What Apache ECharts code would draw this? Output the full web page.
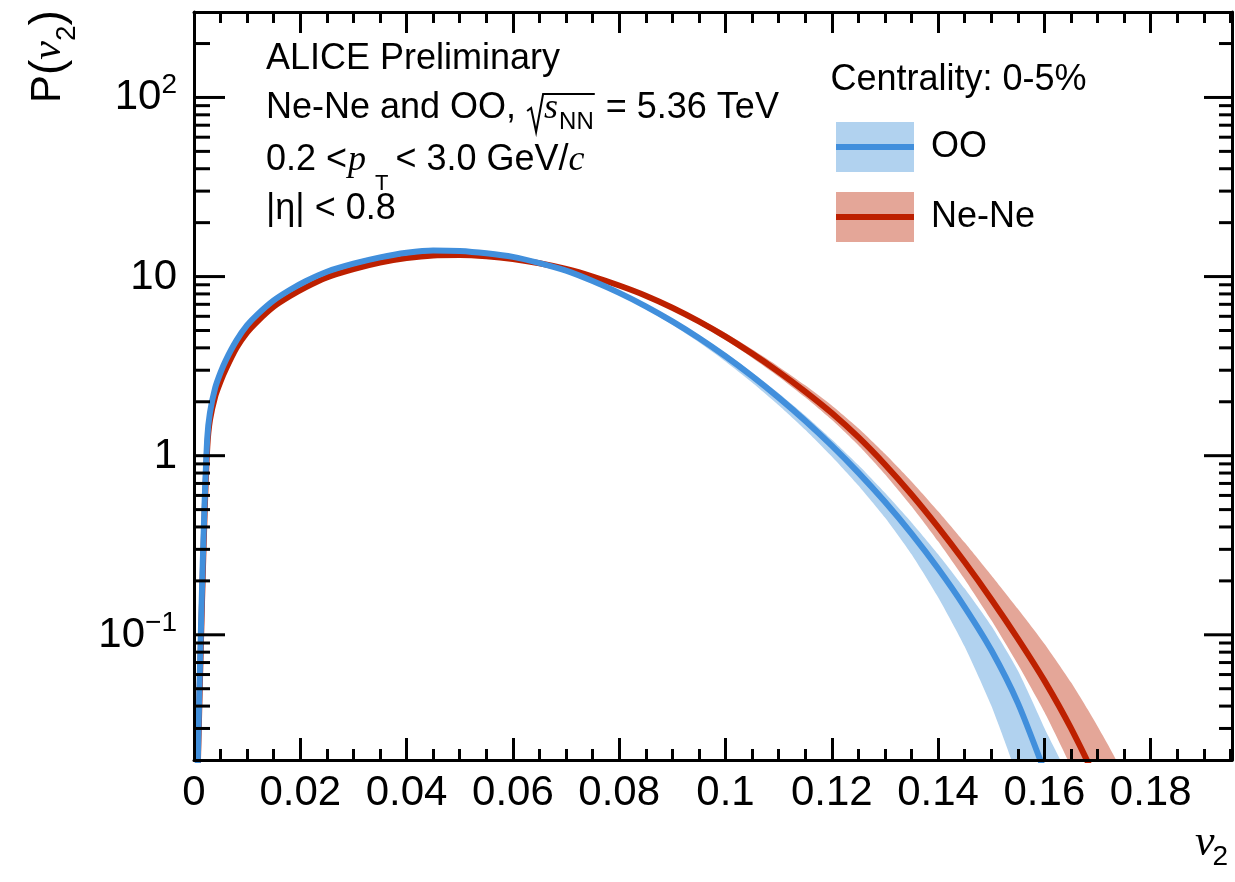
<!DOCTYPE html>
<html><head><meta charset="utf-8">
<script src="https://cdn.jsdelivr.net/npm/echarts@6/dist/echarts.min.js"></script>
<style>html,body{margin:0;padding:0;background:#fff;}#c{width:1235px;height:882px;}</style>
</head><body><div id="c"></div>
<script>
// ---------------- data ----------------
const v2Grid = [0.0005,0.001,0.0015,0.002,0.0025,0.003,0.004,0.005,0.006,0.008,0.01,0.012,0.015,0.018,0.021,0.025,0.03,0.035,
  0.04,0.045,0.05,0.055,0.06,0.065,0.07,0.075,0.08,0.085,0.09,0.095,0.1,0.105,0.11,0.115,0.12,0.125,0.13,0.135,0.14,0.145,0.15,0.155,0.16,0.165,0.17,0.175];
const ooP = [0.01,0.047,0.178,0.55,1.26,1.74,2.4,2.92,3.42,4.4,5.35,6.17,7.36,8.41,9.42,10.64,11.8,12.8,
  13.58,14.0,13.9,13.49,12.88,11.89,10.79,9.44,8.11,6.82,5.62,4.54,3.59,2.78,2.109,1.567,1.138,0.805,0.553,0.367,0.2344,0.1429,0.0822,0.0417,0.01738,0.00684,null,null];
const neP = [0.01,0.04,0.15,0.48,1.12,1.58,2.15,2.6,3.05,4.0,4.88,5.65,6.79,7.76,8.71,9.89,11.0,11.97,
  12.68,13.12,13.18,12.97,12.53,11.86,11.02,10.0,8.91,7.82,6.70,5.62,4.62,3.715,2.938,2.280,1.730,1.268,0.893,0.607,0.399,0.2547,0.1581,0.0953,0.0555,0.0301,0.01476,0.00615];

const ooBandV = [0.04,0.045,0.05,0.055,0.06,0.065,0.07,0.075,0.08,0.085,0.09,0.095,0.1,0.105,0.11,0.115,0.12,0.125,0.13,0.135,0.14,0.145,0.15,0.155,0.16,0.165];
const ooLow  = [13.46,13.87,13.77,13.37,12.76,11.75,10.62,9.25,7.89,6.59,5.38,4.30,3.36,2.565,1.915,1.397,0.991,0.682,0.4516,0.2816,0.1622,0.0861,0.0403,0.01585,0.0049,0.00143];
const ooHigh = [13.71,14.13,14.03,13.62,13.00,12.03,10.94,9.59,8.26,6.98,5.78,4.70,3.74,2.918,2.234,1.679,1.233,0.887,0.6205,0.4243,0.2818,0.1812,0.1122,0.0631,0.0302,0.01397];

const neBandV = [0.04,0.045,0.05,0.055,0.06,0.065,0.07,0.075,0.08,0.085,0.09,0.095,0.1,0.105,0.11,0.115,0.12,0.125,0.13,0.135,0.14,0.145,0.15,0.155,0.16,0.165,0.17,0.175];
const neLow  = [12.56,13.00,13.06,12.85,12.41,11.72,10.87,9.84,8.73,7.62,6.50,5.42,4.42,3.523,2.761,2.118,1.585,1.143,0.7886,0.5226,0.3326,0.2042,0.1208,0.06856,0.03709,0.01835,0.00802,0.00291];
const neHigh = [12.80,13.24,13.30,13.09,12.65,12.00,11.17,10.16,9.10,8.02,6.90,5.83,4.84,3.926,3.141,2.471,1.906,1.423,1.0253,0.7181,0.4897,0.3274,0.2152,0.1397,0.0892,0.05427,0.03084,0.01545];

// axes
const X_MIN = 0, X_MAX = 0.1953, X_MAJOR = 0.02, X_MINOR = 0.005;
const xTickLabels = ['0','0.02','0.04','0.06','0.08','0.1','0.12','0.14','0.16','0.18'];
const Y_MIN = 0.02, Y_MAX = 300;
const yMajorTicks = [0.1, 1, 10, 100];
const yMinorTicks = [0.03,0.04,0.05,0.06,0.07,0.08,0.09,0.2,0.3,0.4,0.5,0.6,0.7,0.8,0.9,2,3,4,5,6,7,8,9,20,30,40,50,60,70,80,90,200];
const yLabelValues = [0.1, 1, 10, 100];
const yLabelBase = ['10', '1', '10', '10'];
const yLabelExp  = ['\u22121', '', '', '2'];

// ---------------- styling ----------------
const BLUE = '#418fdc', BLUE_BAND = '#b1d2ef', RED = '#bd2000', RED_BAND = '#e4a698';
const SANS = '"Liberation Sans", Arial, Helvetica, sans-serif';
const SERIF = '"Liberation Serif", "Times New Roman", serif';

const mctx = document.createElement('canvas').getContext('2d');
function fontStr(p) { return (p.it ? 'italic ' : '') + p.s + 'px ' + (p.serif ? SERIF : SANS); }
function tw(str, p) { mctx.font = fontStr(p); return mctx.measureText(str).width; }
function midK(p) { return p.serif ? 0.3375 : 0.3465; }
function txt(x, baseline, p) {
  return { type: 'text', x: x, y: baseline - midK(p) * p.s, silent: true,
    style: { text: p.t, font: fontStr(p), fill: '#000', align: 'left', verticalAlign: 'middle', textAlign: 'left', textVerticalAlign: 'middle' } };
}
function runs(x, base, parts) {
  const els = []; let cx = x;
  parts.forEach(p => {
    cx += (p.dx || 0);
    els.push(txt(cx, base + (p.dy || 0), p));
    cx += tw(p.t, p);
  });
  return { els, end: cx };
}

// ---------------- texts ----------------
const graphics = [];
graphics.push(...runs(266, 72, [{ t: 'ALICE Preliminary', s: 36 }]).els);
const l2a = runs(266, 121, [{ t: 'Ne-Ne and OO, ', s: 36 }]);
graphics.push(...l2a.els);
const sx = l2a.end;
const l2b = runs(sx + 18, 121, [{ t: 's', s: 36, serif: true, it: true }, { t: 'NN', s: 24, dy: 10, dx: 1 }]);
graphics.push(...l2b.els);
const overEnd = l2b.end + 1;
graphics.push({ type: 'polyline', silent: true,
  shape: { points: [[sx + 1, 111], [sx + 5, 108], [sx + 10, 132], [sx + 17, 94], [overEnd, 94]] },
  style: { stroke: '#000', lineWidth: 2, fill: null } });
graphics.push(...runs(l2b.end + 2, 121, [{ t: ' = 5.36 TeV', s: 36 }]).els);
graphics.push(...runs(266, 173, [
  { t: '0.2 <', s: 36 }, { t: 'p', s: 36, serif: true, it: true, dx: 1 }, { t: 'T', s: 22, dy: 19, dx: 9 },
  { t: ' < 3.0 GeV/', s: 36, dx: -3 }, { t: 'c', s: 36, serif: true, it: true }]).els);
graphics.push(...runs(266, 222, [{ t: '|\u03b7| < 0.8', s: 36 }]).els);

// legend
graphics.push(...runs(830.5, 93, [{ t: 'Centrality: 0-5%', s: 36 }]).els);
graphics.push({ type: 'rect', silent: true, shape: { x: 836, y: 122, width: 78, height: 50 }, style: { fill: BLUE_BAND } });
graphics.push({ type: 'line', silent: true, shape: { x1: 836, y1: 147, x2: 914, y2: 147 }, style: { stroke: BLUE, lineWidth: 6 } });
graphics.push({ type: 'rect', silent: true, shape: { x: 836, y: 192, width: 78, height: 50 }, style: { fill: RED_BAND } });
graphics.push({ type: 'line', silent: true, shape: { x1: 836, y1: 217, x2: 914, y2: 217 }, style: { stroke: RED, lineWidth: 6 } });
graphics.push(...runs(931, 160, [{ t: 'OO', s: 36 }]).els);
graphics.push(...runs(931, 230, [{ t: 'Ne-Ne', s: 36 }]).els);

// x title
graphics.push(...runs(1195, 858, [{ t: 'v', s: 44, serif: true, it: true }, { t: '2', s: 28, dy: 9, dx: -2 }]).els);

// y title (rotated)
const yt = runs(0, 0, [{ t: 'P', s: 42 }, { t: '(', s: 46, dy: 2 }, { t: 'v', s: 42, serif: true, it: true },
  { t: '2', s: 28, dy: 14 }, { t: ')', s: 46, dy: 2 }]);
graphics.push({ type: 'group', x: 63, y: 103, rotation: Math.PI / 2, silent: true, children: yt.els });

// ---------------- series ----------------
function bandSeries(name, bv, low, high, color) {
  return {
    type: 'custom', name, silent: true, z: 1, xAxisIndex: 0, yAxisIndex: 0,
    data: [[bv[0], high[0]]], encode: { x: 0, y: 1 },
    renderItem(params, api) {
      const pts = [];
      for (let i = 0; i < bv.length; i++) pts.push(api.coord([bv[i], high[i]]));
      for (let i = bv.length - 1; i >= 0; i--) pts.push(api.coord([bv[i], low[i]]));
      const cs = params.coordSys;
      return { type: 'polygon', shape: { points: pts, smooth: 0.2 }, style: { fill: color },
        clipPath: { type: 'rect', shape: { x: cs.x, y: cs.y, width: cs.width, height: cs.height } } };
    }
  };
}
function lineSeries(name, vals, color, z) {
  return { type: 'line', name, z, data: v2Grid.map((v, i) => [v, vals[i]]), showSymbol: false, symbol: 'none',
    smooth: 0.25, clip: true, silent: true, lineStyle: { color, width: 6 } };
}

const yTickData = yMajorTicks.map(v => [0, v, 1]).concat(yMinorTicks.map(v => [0, v, 0]));
const yTickSeries = {
  type: 'custom', silent: true, z: 6, data: yTickData, encode: { x: 0, y: 1 },
  renderItem(params, api) {
    const cs = params.coordSys;
    const y = api.coord([0, api.value(1)])[1];
    const major = api.value(2) === 1;
    const L = major ? 31 : 16, R = major ? 28 : 13;
    const st = { stroke: '#000', lineWidth: 3 };
    return { type: 'group', children: [
      { type: 'line', shape: { x1: cs.x, y1: y, x2: cs.x + L, y2: y }, style: st },
      { type: 'line', shape: { x1: cs.x + cs.width - R, y1: y, x2: cs.x + cs.width, y2: y }, style: st }
    ] };
  }
};
const yLabelSeries = {
  type: 'custom', silent: true, z: 6, data: yLabelValues.map((v, i) => [0, v, i]), encode: { x: 0, y: 1 },
  renderItem(params, api) {
    const cs = params.coordSys;
    const y = api.coord([0, api.value(1)])[1];
    const i = api.value(2);
    const pb = { t: yLabelBase[i], s: 42 }, pe = { t: yLabelExp[i], s: 28 };
    const wb = tw(pb.t, pb), we = pe.t ? tw(pe.t, pe) : 0;
    const right = cs.x - 17;
    const x0 = right - wb - we;
    const base = y + 15;
    const ch = [txt(x0, base, pb)];
    if (pe.t) ch.push(txt(x0 + wb, base - 17, pe));
    return { type: 'group', children: ch };
  }
};

// ---------------- axes ----------------
const axisLineStyle = { color: '#000', width: 3 };
function xAx(pos, interval, len, showLine, showLabel) {
  return {
    type: 'value', position: pos, min: X_MIN, max: X_MAX, interval, z: 5,
    axisLine: { show: showLine, onZero: false, lineStyle: axisLineStyle },
    axisTick: { show: true, inside: true, length: len, lineStyle: { color: '#000', width: 3 } },
    axisLabel: showLabel ? {
      show: true, margin: 12, color: '#000', fontSize: 42, fontFamily: SANS, hideOverlap: false,
      formatter: v => { const k = Math.round(v / X_MAJOR); return Math.abs(v - k * X_MAJOR) < 1e-6 && k < xTickLabels.length ? xTickLabels[k] : ''; }
    } : { show: false },
    splitLine: { show: false }, minorTick: { show: false }
  };
}
function yAx(pos) {
  return { type: 'log', logBase: 10, position: pos, min: Y_MIN, max: Y_MAX, z: 5,
    axisLine: { show: true, onZero: false, lineStyle: axisLineStyle },
    axisTick: { show: false }, axisLabel: { show: false }, splitLine: { show: false }, minorTick: { show: false } };
}

const option = {
  animation: false,
  backgroundColor: '#fff',
  grid: { left: 194, top: 12, width: 1038, height: 748, containLabel: false, outerBoundsMode: 'none' },
  xAxis: [xAx('bottom', X_MAJOR, 22, true, true), xAx('bottom', X_MINOR, 11, false, false),
          xAx('top', X_MAJOR, 21, true, false), xAx('top', X_MINOR, 11, false, false)],
  yAxis: [yAx('left'), yAx('right')],
  series: [
    bandSeries('OO band', ooBandV, ooLow, ooHigh, BLUE_BAND),
    bandSeries('Ne-Ne band', neBandV, neLow, neHigh, RED_BAND),
    lineSeries('Ne-Ne', neP, RED, 3),
    lineSeries('OO', ooP, BLUE, 4),
    yTickSeries, yLabelSeries
  ],
  graphic: { elements: graphics }
};
const chart = echarts.init(document.getElementById('c'), null, { renderer: 'canvas', width: 1235, height: 882 });
chart.setOption(option);
</script></body></html>
